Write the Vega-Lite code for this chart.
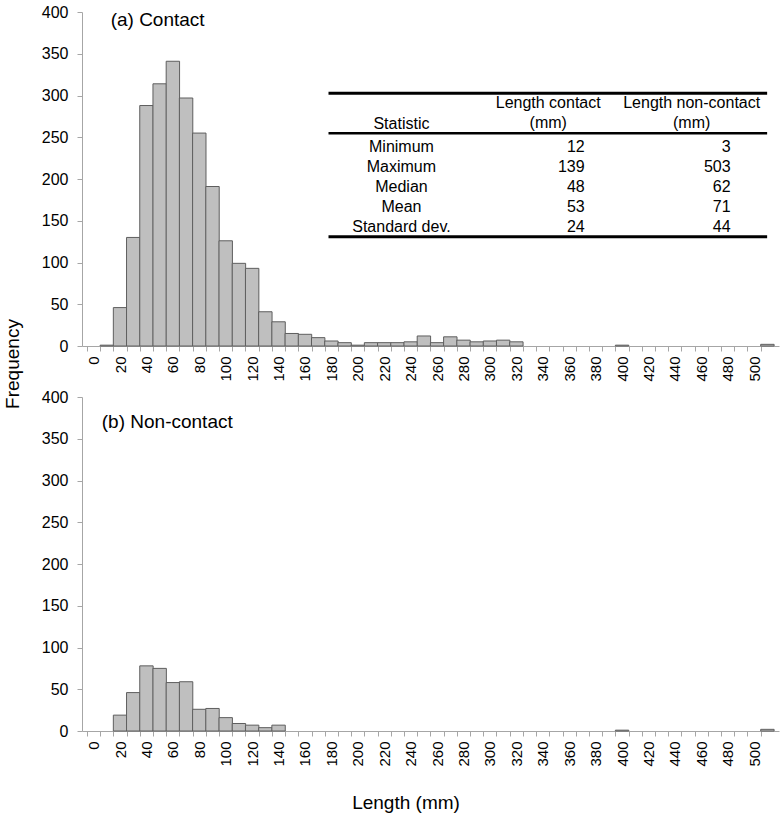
{
  "$schema": "https://vega.github.io/schema/vega-lite/v6.json",
  "padding": {"left": 3, "top": 4, "right": 3, "bottom": 3},
  "background": "white",
  "bounds": "flush",
  "spacing": 51,
  "config": {
    "font": "Liberation Sans",
    "view": {"stroke": null},
    "axis": {"grid": false, "domainColor": "#a6a6a6", "tickColor": "#a6a6a6", "labelColor": "#000000", "labelFont": "Liberation Sans", "titleFont": "Liberation Sans", "titleFontWeight": "normal", "titleColor": "#000000"},
    "text": {"font": "Liberation Sans", "color": "#000000"}
  },
  "datasets": {
    "contact": [
      {"length":10,"count":1},{"length":20,"count":46},{"length":30,"count":130},{"length":40,"count":288},{"length":50,"count":314},{"length":60,"count":341},{"length":70,"count":297},{"length":80,"count":255},{"length":90,"count":191},{"length":100,"count":126},{"length":110,"count":99},{"length":120,"count":93},{"length":130,"count":41},{"length":140,"count":29},{"length":150,"count":15},{"length":160,"count":14},{"length":170,"count":10},{"length":180,"count":6},{"length":190,"count":4},{"length":200,"count":1},{"length":210,"count":4},{"length":220,"count":4},{"length":230,"count":4},{"length":240,"count":5},{"length":250,"count":12},{"length":260,"count":4},{"length":270,"count":11},{"length":280,"count":7},{"length":290,"count":5},{"length":300,"count":6},{"length":310,"count":7},{"length":320,"count":5},{"length":400,"count":1},{"length":510,"count":2}
    ],
    "noncontact": [
      {"length":20,"count":19},{"length":30,"count":46},{"length":40,"count":78},{"length":50,"count":75},{"length":60,"count":58},{"length":70,"count":59},{"length":80,"count":26},{"length":90,"count":27},{"length":100,"count":16},{"length":110,"count":9},{"length":120,"count":7},{"length":130,"count":4},{"length":140,"count":7},{"length":400,"count":1},{"length":510,"count":2}
    ],
    "stats": [
      {"stat":"Minimum","contact":"12","noncontact":"3"},
      {"stat":"Maximum","contact":"139","noncontact":"503"},
      {"stat":"Median","contact":"48","noncontact":"62"},
      {"stat":"Mean","contact":"53","noncontact":"71"},
      {"stat":"Standard dev.","contact":"24","noncontact":"44"}
    ],
    "one": [{}]
  },
  "vconcat": [
    {
      "width": 697,
      "height": 334,
      "layer": [
        {
          "layer": [
            {
              "data": {"name": "contact"},
              "mark": {"type": "bar", "width": 13.4, "fill": "#bfbfbf", "stroke": "#5e5e5e", "strokeWidth": 1},
              "encoding": {
                "x": {"field": "length", "type": "quantitative", "scale": {"domain": [-5, 515], "nice": false, "zero": false},
                  "axis": {"values": [0,10,20,30,40,50,60,70,80,90,100,110,120,130,140,150,160,170,180,190,200,210,220,230,240,250,260,270,280,290,300,310,320,330,340,350,360,370,380,390,400,410,420,430,440,450,460,470,480,490,500,510,520],
                    "tickOffset": -6.7, "labelOffset": 6.7, "labelAngle": -90, "labelExpr": "datum.value % 20 === 0 && datum.value <= 500 ? datum.label : ''",
                    "labelOverlap": false, "labelFlush": false, "labelBound": false, "tickSize": 5, "labelPadding": 5, "labelFontSize": 15, "format": "d", "title": null}},
                "y": {"field": "count", "type": "quantitative", "scale": {"domain": [0, 400], "nice": false},
                  "axis": {"values": [0,50,100,150,200,250,300,350,400], "tickSize": 5, "labelPadding": 9, "labelFontSize": 16,
                    "title": "Frequency", "titleFontSize": 19, "titleAngle": -90, "titleX": -69.5, "titleY": 351.5, "titleAlign": "center", "titleBaseline": "middle"}}
              }
            },
            {
              "data": {"name": "one"},
              "mark": {"type": "text", "align": "left", "baseline": "middle", "fontSize": 19, "text": "(a) Contact"},
              "encoding": {"x": {"datum": 12.9, "type": "quantitative", "axis": null}, "y": {"datum": 390.4, "type": "quantitative", "axis": null}}
            },
            {
              "data": {"name": "one"},
              "mark": {"type": "rule", "strokeWidth": 3, "color": "#000000"},
              "encoding": {"x": {"datum": 177.8, "type": "quantitative", "axis": null}, "x2": {"datum": 509.8}, "y": {"datum": 302.6, "type": "quantitative", "axis": null}}
            },
            {
              "data": {"name": "one"},
              "mark": {"type": "rule", "strokeWidth": 2.5, "color": "#000000"},
              "encoding": {"x": {"datum": 177.8, "type": "quantitative", "axis": null}, "x2": {"datum": 509.8}, "y": {"datum": 254.7, "type": "quantitative", "axis": null}}
            },
            {
              "data": {"name": "one"},
              "mark": {"type": "rule", "strokeWidth": 3, "color": "#000000"},
              "encoding": {"x": {"datum": 177.8, "type": "quantitative", "axis": null}, "x2": {"datum": 509.8}, "y": {"datum": 130.9, "type": "quantitative", "axis": null}}
            },
            {
              "data": {"name": "one"},
              "mark": {"type": "text", "align": "center", "baseline": "middle", "fontSize": 16, "text": "Statistic"},
              "encoding": {"x": {"datum": 233, "type": "quantitative", "axis": null}, "y": {"datum": 266, "type": "quantitative", "axis": null}}
            },
            {
              "data": {"name": "one"},
              "mark": {"type": "text", "align": "center", "baseline": "middle", "fontSize": 16, "lineHeight": 20, "text": ["Length contact", "(mm)"]},
              "encoding": {"x": {"datum": 344.1, "type": "quantitative", "axis": null}, "y": {"datum": 290.7, "type": "quantitative", "axis": null}}
            },
            {
              "data": {"name": "one"},
              "mark": {"type": "text", "align": "center", "baseline": "middle", "fontSize": 16, "lineHeight": 20, "text": ["Length non-contact", "(mm)"]},
              "encoding": {"x": {"datum": 452.7, "type": "quantitative", "axis": null}, "y": {"datum": 290.7, "type": "quantitative", "axis": null}}
            }
          ],
          "resolve": {"axis": {"x": "independent", "y": "independent"}}
        },
        {
          "data": {"name": "stats"},
          "encoding": {
            "y": {"field": "stat", "type": "nominal", "scale": {"type": "point", "domain": ["Minimum","Maximum","Median","Mean","Standard dev."], "range": [134.7, 214.7], "padding": 0}, "axis": null}
          },
          "layer": [
            {
              "mark": {"type": "text", "align": "center", "baseline": "middle", "fontSize": 16},
              "encoding": {"x": {"datum": 233, "type": "quantitative", "axis": null}, "text": {"field": "stat"}}
            },
            {
              "mark": {"type": "text", "align": "right", "baseline": "middle", "fontSize": 16},
              "encoding": {"x": {"datum": 371.7, "type": "quantitative", "axis": null}, "text": {"field": "contact"}}
            },
            {
              "mark": {"type": "text", "align": "right", "baseline": "middle", "fontSize": 16},
              "encoding": {"x": {"datum": 482.2, "type": "quantitative", "axis": null}, "text": {"field": "noncontact"}}
            }
          ],
          "resolve": {"axis": {"x": "independent", "y": "independent"}}
        }
      ],
      "resolve": {"scale": {"y": "independent"}, "axis": {"x": "independent", "y": "independent"}}
    },
    {
      "width": 697,
      "height": 334,
      "layer": [
        {
          "data": {"name": "noncontact"},
          "mark": {"type": "bar", "width": 13.4, "fill": "#bfbfbf", "stroke": "#5e5e5e", "strokeWidth": 1},
          "encoding": {
            "x": {"field": "length", "type": "quantitative", "scale": {"domain": [-5, 515], "nice": false, "zero": false},
              "axis": {"values": [0,10,20,30,40,50,60,70,80,90,100,110,120,130,140,150,160,170,180,190,200,210,220,230,240,250,260,270,280,290,300,310,320,330,340,350,360,370,380,390,400,410,420,430,440,450,460,470,480,490,500,510,520],
                "tickOffset": -6.7, "labelOffset": 6.7, "labelAngle": -90, "labelExpr": "datum.value % 20 === 0 && datum.value <= 500 ? datum.label : ''",
                "labelOverlap": false, "labelFlush": false, "labelBound": false, "tickSize": 5, "labelPadding": 5, "labelFontSize": 15, "format": "d",
                "title": "Length (mm)", "titleFontSize": 19, "titleX": 323.5, "titleY": 71, "titleAlign": "center", "titleBaseline": "middle"}},
            "y": {"field": "count", "type": "quantitative", "scale": {"domain": [0, 400], "nice": false},
              "axis": {"values": [0,50,100,150,200,250,300,350,400], "tickSize": 5, "labelPadding": 9, "labelFontSize": 16, "title": null}}
          }
        },
        {
          "data": {"name": "one"},
          "mark": {"type": "text", "align": "left", "baseline": "middle", "fontSize": 19, "text": "(b) Non-contact"},
          "encoding": {"x": {"datum": 6.2, "type": "quantitative", "axis": null}, "y": {"datum": 370.4, "type": "quantitative", "axis": null}}
        }
      ],
      "resolve": {"axis": {"x": "independent", "y": "independent"}}
    }
  ]
}
